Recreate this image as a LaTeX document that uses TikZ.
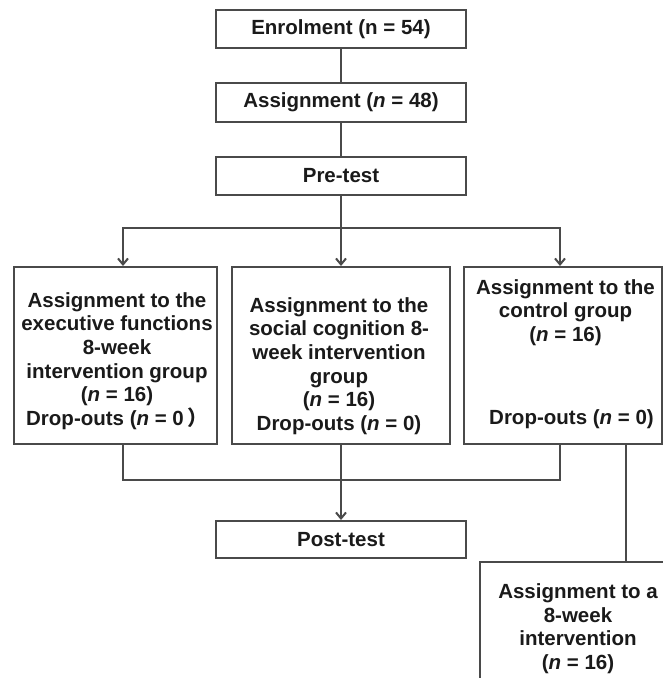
\documentclass[tikz,border=0pt]{standalone}
\usepackage{fontspec}
\setmainfont{Liberation Sans}
\newfontfamily\cjk{Noto Sans CJK SC}
\usetikzlibrary{arrows.meta}
\definecolor{linec}{HTML}{4A4A4A}
\definecolor{textc}{HTML}{1A1A1A}
\begin{document}
\begin{tikzpicture}[x=1pt,y=-1pt,
  box/.style={draw=linec, line width=2pt, rectangle, inner sep=0pt, text=textc,
    font=\bfseries\fontsize{20.5pt}{23.6pt}\selectfont},
  txt/.style={inner sep=0pt, align=center, text=textc,
    font=\bfseries\fontsize{20.5pt}{23.6pt}\selectfont},
  conn/.style={draw=linec, line width=2pt},
  arr/.style={conn, -{Straight Barb[length=6pt,width=10pt]}}]
\useasboundingbox (0,0) rectangle (663,678);
\clip (0,0) rectangle (663,678);
% top boxes
\node[box, minimum width=250pt, minimum height=38pt] (enrol) at (341,29) {Enrolment (n = 54)};
\node[box, minimum width=250pt, minimum height=39pt] (assign) at (341,102.5) {Assignment (\textit{n} = 48)};
\node[box, minimum width=250pt, minimum height=38pt] (pre) at (341,176) {Pre-test};
% group boxes
\node[box, minimum width=203pt, minimum height=177pt] (g1) at (115.5,355.5) {};
\node[box, minimum width=218pt, minimum height=177pt] (g2) at (341,355.5) {};
\node[box, minimum width=198pt, minimum height=177pt] (g3) at (563,355.5) {};
\node[txt] (g1t) at (117,361) {Assignment to the\\executive functions\\8-week\\intervention group\\(\textit{n} = 16)\\Drop-outs (\textit{n} = 0\,{\cjk ）}};
\node[txt] (g2t) at (339,366) {Assignment to the\\social cognition 8-\\week intervention\\group\\(\textit{n} = 16)\\Drop-outs (\textit{n} = 0)};
\node[txt] (g3t) at (565.5,312.5) {Assignment to the\\control group\\(\textit{n} = 16)};
\node[txt] (g3d) at (571.5,419) {Drop-outs (\textit{n} = 0)};
% post-test and lower box
\node[box, minimum width=250pt, minimum height=37pt] (post) at (341,539.5) {Post-test};
\node[box, minimum width=196pt, minimum height=160pt, anchor=north] (lower) at (578,561) {};
\node[txt] (lowert) at (578,628.5) {Assignment to a\\8-week\hspace*{0.9em}\\intervention\\(\textit{n} = 16)};
% connectors
\coordinate (split) at (341,228);
\coordinate (merge) at (341,480);
\draw[conn] (enrol) -- (assign);
\draw[conn] (assign) -- (pre);
\draw[conn] (pre) -- (split);
\draw[arr] (split) -| ([xshift=7.5pt]g1.north);
\draw[arr] (split) -- (g2.north);
\draw[arr] (split) -| ([xshift=-3pt]g3.north);
\draw[conn] ([xshift=7.5pt]g1.south) |- (merge) -| ([xshift=-3pt]g3.south);
\draw[arr] (g2.south) -- (post.north);
\draw[conn] ([xshift=63pt]g3.south) -- ([xshift=63pt]g3.south |- lower.north);
\end{tikzpicture}
\end{document}
